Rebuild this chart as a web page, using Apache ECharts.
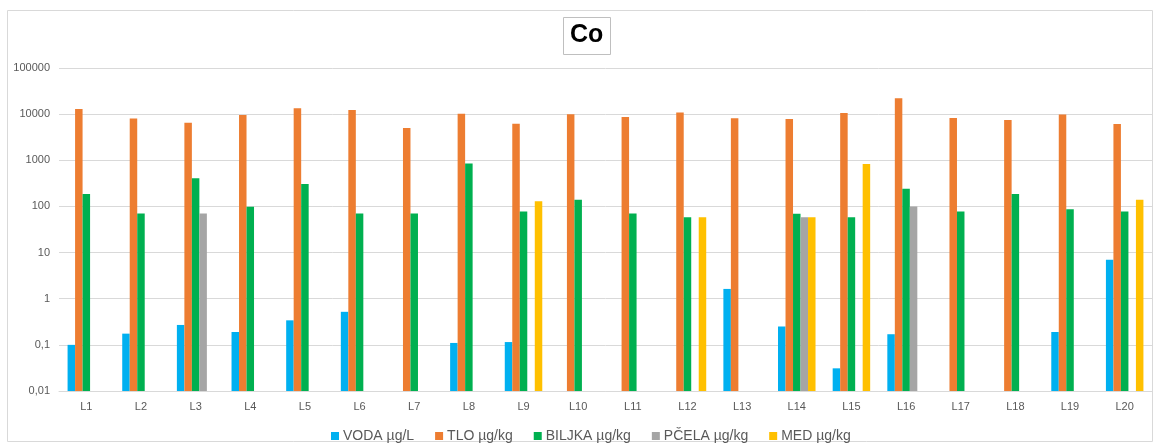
<!DOCTYPE html>
<html><head><meta charset="utf-8">
<script src="https://cdn.jsdelivr.net/npm/echarts@6/dist/echarts.min.js"></script>
<style>html,body{margin:0;padding:0;background:#fff}#c{width:1155px;height:443px}</style>
</head><body><div id="c"></div>
<script>
const categories = ['L1','L2','L3','L4','L5','L6','L7','L8','L9','L10','L11','L12','L13','L14','L15','L16','L17','L18','L19','L20'];
const voda   = [0.1, 0.175, 0.27, 0.19, 0.34, 0.52, null, 0.11, 0.115, null, null, null, 1.63, 0.25, 0.031, 0.17, null, null, 0.19, 7.0];
const tlo    = [12900, 8000, 6500, 9600, 13500, 12300, 5000, 10200, 6200, 10000, 8700, 10800, 8100, 7850, 10600, 22000, 8300, 7500, 9800, 6100];
const biljka = [186, 70, 410, 98, 307, 70, 70, 850, 78, 140, 70, 58, null, 69, 58, 243, 78, 186, 87, 78];
const pcela  = [null, null, 70, null, null, null, null, null, null, null, null, null, null, 58, null, 100, null, null, null, null];
const med    = [null, null, null, null, null, null, null, null, 129, null, null, 58, null, 58, 830, null, null, null, null, 140];
const seriesNames = ['VODA µg/L','TLO µg/kg','BILJKA µg/kg','PČELA µg/kg','MED µg/kg'];
const colors = ['#00B0F0','#ED7D31','#00B050','#A5A5A5','#FFC000'];
const allData = [voda, tlo, biljka, pcela, med];

const chart = echarts.init(document.getElementById('c'));
chart.setOption({
  animation: false,
  title: {
    text: 'Co', left: 563, top: 17,
    padding: [6, 7, 7, 7],
    borderWidth: 1, borderColor: '#bfbfbf',
    textStyle: { fontFamily: 'Liberation Sans', fontSize: 25, fontWeight: 'bold', color: '#000' }
  },
  graphic: [{
    type: 'rect', shape: { x: 7.5, y: 10.5, width: 1145, height: 431 },
    style: { fill: 'none', stroke: '#d9d9d9', lineWidth: 1 }, silent: true, z: -1
  }],
  legend: {
    data: seriesNames, top: 424, left: 326,
    icon: 'rect', itemWidth: 8, itemHeight: 8, itemGap: 21,
    itemStyle: { borderWidth: 0 },
    textStyle: { fontFamily: 'Liberation Sans', fontSize: 14, color: '#595959', padding: [0, 0, 0, -1] }
  },
  grid: { left: 59, right: 3, top: 68, bottom: 52 },
  xAxis: {
    type: 'category', data: categories,
    axisLine: { lineStyle: { color: '#d9d9d9' } },
    axisTick: { show: false },
    axisLabel: { fontFamily: 'Liberation Sans', fontSize: 11, color: '#595959', margin: 10 }
  },
  yAxis: {
    type: 'log', logBase: 10, min: 0.01, max: 100000, startValue: 0.01,
    axisLine: { show: false }, axisTick: { show: false },
    splitLine: { lineStyle: { color: '#d9d9d9' } },
    axisLabel: {
      fontFamily: 'Liberation Sans', fontSize: 11, color: '#595959', margin: 9,
      formatter: v => String(Number(v.toPrecision(6))).replace('.', ',')
    }
  },
  series: allData.map((d, i) => ({
    name: seriesNames[i], type: 'bar', data: d,
    barWidth: 7.5, barGap: '0%',
    itemStyle: { color: colors[i] }
  }))
});
</script></body></html>
